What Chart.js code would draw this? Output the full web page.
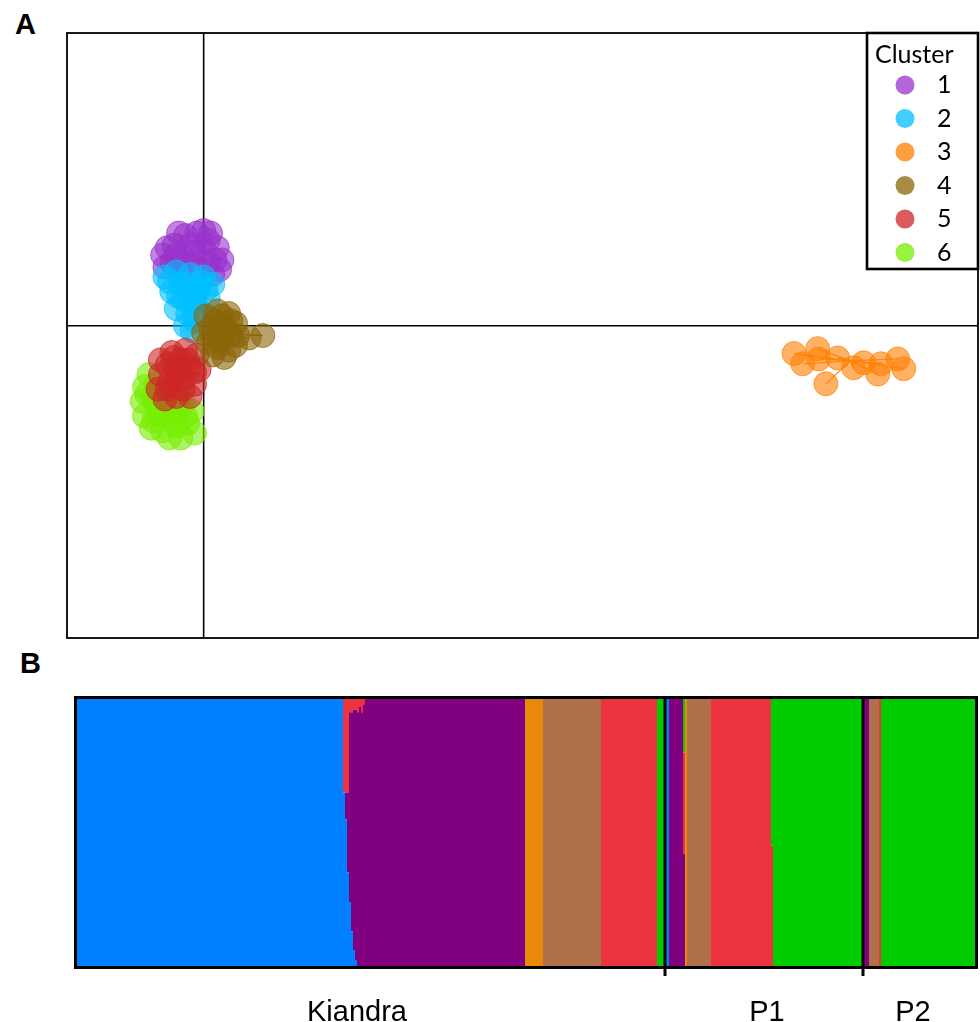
<!DOCTYPE html>
<html>
<head>
<meta charset="utf-8">
<script src="https://cdn.jsdelivr.net/npm/chart.js@4.4.0/dist/chart.umd.min.js"></script>
<style>
  html, body { margin: 0; padding: 0; background: #fff; }
  body { width: 980px; height: 1022px; position: relative; overflow: hidden; font-family: "Liberation Sans", Arial, sans-serif; }
  .panel-label { position: absolute; font-weight: bold; font-size: 29px; line-height: 1; }
  #wrapA { position: absolute; left: 65px; top: 31px; width: 915px; height: 609px; }
  #wrapB { position: absolute; left: 70px; top: 694px; width: 910px; height: 328px; }
</style>
</head>
<body>
<div class="panel-label" style="left:15px;top:10px;">A</div>
<div class="panel-label" style="left:20px;top:649px;">B</div>
<div id="wrapA"><canvas id="scatter"></canvas></div>
<div id="wrapB"><canvas id="structure"></canvas></div>
<script>
// ---------- Panel A: cluster scatter ----------
const clusterNames = ['1', '2', '3', '4', '5', '6'];
const clusterColors = ['153, 50, 204', '0, 191, 255', '255, 127, 0', '139, 101, 8', '205, 38, 38', '118, 238, 0'];

const cluster1 = [[-0.9,1.45],[-0.85,1.2],[-0.65,1.65],[-0.4,1.85],[-0.15,1.9],[0.1,1.75],[0.3,1.6],[0.4,1.35],[0.35,1.15],[0.1,1.3],[-0.2,1.5],[-0.45,1.4],[-0.7,1.3],[0.0,1.95],[-0.5,1.1],[0.2,1.05],[-0.3,1.65],
  [-0.6,1.45],[-0.35,1.25],[0.0,1.55],[0.25,1.35],[-0.1,1.15],[-0.8,1.6],[0.15,1.9],[-0.55,1.9]];
const cluster2 = [[-0.85,1.0],[-0.6,1.1],[-0.3,1.05],[0.0,1.0],[0.2,0.85],[-0.7,0.7],[-0.45,0.55],[-0.15,0.7],[0.1,0.55],[-0.6,0.35],[-0.35,0.25],[-0.1,0.3],[-0.4,0.0],[-0.25,-0.1],[-0.2,0.5],[-0.5,0.85],
  [-0.75,0.9],[-0.4,0.85],[-0.05,0.9],[-0.3,0.45],[-0.55,0.6],[0.05,0.75],[-0.2,0.1]];
const cluster3 = [[12.96,-0.57],[13.48,-0.47],[13.15,-0.78],[13.66,-1.19],[13.5,-0.68],[14.27,-0.86],[14.49,-0.76],[14.8,-0.99],[15.24,-0.68],[15.37,-0.88],[14.87,-0.78],[13.92,-0.66]];
const cluster4 = [[0.05,0.2],[0.3,0.3],[0.55,0.25],[0.7,0.05],[0.15,-0.05],[0.4,0.0],[0.6,-0.2],[0.1,-0.35],[0.35,-0.3],[0.55,-0.5],[0.2,-0.6],[0.45,-0.65],[0.7,-0.4],[1.0,-0.25],[1.3,-0.2],[0.0,-0.15],
  [0.25,0.1],[0.5,-0.1],[0.3,-0.45],[0.6,0.1],[0.75,-0.2],[0.2,-0.2],[0.4,0.2]];
const cluster5 = [[-0.95,-0.7],[-0.7,-0.55],[-0.4,-0.5],[-0.15,-0.6],[-0.1,-0.9],[-0.3,-0.85],[-0.6,-0.85],[-0.95,-1.0],[-1.0,-1.3],[-0.75,-1.15],[-0.45,-1.1],[-0.2,-1.2],[-0.3,-1.45],[-0.6,-1.45],[-0.85,-1.5],[-0.5,-0.7],
  [-0.8,-0.8],[-0.55,-1.0],[-0.35,-0.7],[-0.2,-0.95],[-0.8,-1.3],[-0.45,-1.3],[-0.65,-0.65]];
const cluster6 = [[-1.3,-1.25],[-1.05,-1.2],[-1.35,-1.55],[-1.1,-1.5],[-0.8,-1.4],[-1.3,-1.85],[-1.0,-1.8],[-0.7,-1.7],[-0.45,-1.6],[-0.25,-1.75],[-1.15,-2.1],[-0.9,-2.15],[-0.6,-2.05],[-0.35,-2.0],[-0.2,-2.2],[-0.75,-2.3],[-0.5,-2.3],[-1.2,-1.0],
  [-1.05,-1.6],[-0.85,-1.85],[-0.6,-1.85],[-0.4,-1.85],[-1.1,-1.95],[-0.55,-1.5],[-1.25,-1.4],[-0.95,-1.45]];
const centroids = [[-0.15,1.35],[-0.25,0.72],[14.2,-0.72],[0.4,-0.16],[-0.7,-1.4],[-0.8,-1.75]];

const clusterPoints = [cluster1, cluster2, cluster3, cluster4, cluster5, cluster6];
// bottom -> top
const drawSequence = [0, 1, 5, 4, 3, 2];

const scatterSets = [];
drawSequence.forEach((k, s) => {
  const col = clusterColors[k];
  const c = centroids[k];
  const spokes = [];
  clusterPoints[k].forEach(p => {
    spokes.push({ x: c[0], y: c[1] });
    spokes.push({ x: p[0], y: p[1] });
  });
  scatterSets.push({
    type: 'scatter',
    label: 'Cluster ' + clusterNames[k],
    data: clusterPoints[k].map(p => ({ x: p[0], y: p[1] })),
    pointRadius: 12,
    pointBackgroundColor: `rgba(${col}, 0.6)`,
    pointBorderColor: `rgba(${col}, 0.7)`,
    pointBorderWidth: 1,
    order: 100 - 2 * s
  });
  scatterSets.push({
    type: 'line',
    label: 'spokes ' + clusterNames[k],
    data: spokes,
    showLine: true,
    pointRadius: 0,
    borderColor: `rgba(${col}, 0.85)`,
    borderWidth: 1.3,
    tension: 0,
    order: 100 - 2 * s - 1
  });
});

const zeroLines = {
  id: 'zeroLines',
  beforeDatasetsDraw(chart) {
    const { ctx, chartArea, scales: { x, y } } = chart;
    const x0 = x.getPixelForValue(0), y0 = y.getPixelForValue(0);
    ctx.save();
    ctx.strokeStyle = '#000';
    ctx.lineWidth = 1.6;
    ctx.beginPath();
    ctx.moveTo(x0, chartArea.top); ctx.lineTo(x0, chartArea.bottom);
    ctx.moveTo(chartArea.left, y0); ctx.lineTo(chartArea.right, y0);
    ctx.stroke();
    ctx.restore();
  },
  afterDraw(chart) {
    const { ctx, chartArea } = chart;
    ctx.save();
    ctx.strokeStyle = '#000';
    ctx.lineWidth = 1.8;
    ctx.strokeRect(chartArea.left, chartArea.top, chartArea.right - chartArea.left, chartArea.bottom - chartArea.top);

    // legend box inside the plot
    const w = 111, h = 236;
    const left = chartArea.right - w, top = chartArea.top;
    ctx.fillStyle = '#fff';
    ctx.fillRect(left, top, w, h);
    ctx.lineWidth = 2.6;
    ctx.strokeRect(left, top, w, h);
    ctx.fillStyle = '#000';
    ctx.font = '25px Lato';
    ctx.textAlign = 'left';
    ctx.textBaseline = 'alphabetic';
    ctx.fillText('Cluster', left + 8, top + 30);
    clusterNames.forEach((name, i) => {
      const yy = top + 52 + i * 33.5;
      ctx.beginPath();
      ctx.arc(left + 38, yy, 9.5, 0, Math.PI * 2);
      ctx.fillStyle = `rgba(${clusterColors[i]}, 0.75)`;
      ctx.fill();
      ctx.fillStyle = '#000';
      ctx.fillText(name, left + 70, yy + 8);
    });
    ctx.restore();
  }
};

new Chart(document.getElementById('scatter'), {
  type: 'scatter',
  data: { datasets: scatterSets },
  options: {
    responsive: true,
    maintainAspectRatio: false,
    animation: false,
    layout: { padding: 2, autoPadding: false },
    plugins: { legend: { display: false }, tooltip: { enabled: false } },
    events: [],
    scales: {
      x: { type: 'linear', min: -3, max: 17, display: false },
      y: { type: 'linear', min: -6.4, max: 6.0, display: false }
    }
  },
  plugins: [zeroLines]
});

// ---------- Panel B: membership bar plot ----------
const popNames = ['Kiandra', 'P1', 'P2'];
const popBreaks = [294, 393];
const popLabelAt = [140, 345, 418];
const nIndividuals = 449;

// individual index where each run of equal membership starts (last = end)
const blockStart = [0, 133, 134, 135, 136, 137, 138, 139, 140, 141, 142, 143, 144, 224, 233, 262, 290, 294, 296, 303, 304, 305, 317, 347, 348, 393, 396, 401, 402, 449];
const qBlue   = [1, 0.65, 0.55, 0.35, 0.24, 0.13, 0.06, 0.02, 0, 0, 0, 0, 0, 0, 0, 0, 0, 1, 0, 0, 0, 0, 0, 0, 0, 0, 0, 0, 0, 0];
const qPurple = [0, 0, 0.10, 0.30, 0.71, 0.82, 0.90, 0.94, 0.95, 0.97, 0.95, 0.98, 1, 0, 0, 0, 0, 0, 1, 0.42, 0, 0, 0, 0, 0, 1, 0, 0, 0, 0];
const qOrange = [0, 0, 0, 0, 0, 0, 0, 0, 0, 0, 0, 0, 0, 1, 0, 0, 0, 0, 0, 0, 1, 0, 0, 0, 0, 0, 0, 0, 0, 0];
const qBrown  = [0, 0, 0, 0, 0, 0, 0, 0, 0, 0, 0, 0, 0, 0, 1, 0, 0, 0, 0, 0, 0, 1, 0, 0, 0, 0, 1, 0, 0, 0];
const qRed    = [0, 0.35, 0.35, 0.35, 0.05, 0.05, 0.04, 0.04, 0.05, 0.03, 0.05, 0.02, 0, 0, 0, 1, 0, 0, 0, 0.38, 0, 0, 1, 0.45, 0, 0, 0, 1, 0, 0];
const qGreen  = [0, 0, 0, 0, 0, 0, 0, 0, 0, 0, 0, 0, 0, 0, 0, 0, 1, 0, 0, 0.20, 0, 0, 0, 0.55, 1, 0, 0, 0, 1, 1];

const memberSeries = [qBlue, qPurple, qOrange, qBrown, qRed, qGreen];
const memberColors = ['#0080ff', '#800080', '#e8890a', '#b0714a', '#ee3340', '#00cc00'];

const structureSets = memberSeries.map((q, i) => ({
  label: 'K' + (i + 1),
  data: blockStart.map((s, j) => ({ x: s, y: q[j] })),
  stepped: 'before',
  showLine: false,
  pointRadius: 0,
  borderWidth: 0,
  backgroundColor: memberColors[i],
  fill: i === 0 ? 'origin' : '-1'
}));

const structureFrame = {
  id: 'structureFrame',
  afterDraw(chart) {
    const { ctx, chartArea, scales: { x } } = chart;
    ctx.save();
    ctx.strokeStyle = '#000';
    ctx.lineWidth = 3;
    popBreaks.forEach(b => {
      const px = x.getPixelForValue(b);
      ctx.beginPath();
      ctx.moveTo(px, chartArea.top);
      ctx.lineTo(px, chartArea.bottom + 10);
      ctx.stroke();
    });
    ctx.strokeRect(chartArea.left - 1.5, chartArea.top - 1.5, chartArea.right - chartArea.left + 3, chartArea.bottom - chartArea.top + 3);
    ctx.fillStyle = '#000';
    ctx.font = '29px "Liberation Sans", Arial, sans-serif';
    ctx.textAlign = 'center';
    ctx.textBaseline = 'alphabetic';
    popNames.forEach((name, i) => {
      ctx.fillText(name, x.getPixelForValue(popLabelAt[i]), chartArea.bottom + 55);
    });
    ctx.restore();
  }
};

new Chart(document.getElementById('structure'), {
  type: 'line',
  data: { datasets: structureSets },
  options: {
    responsive: true,
    maintainAspectRatio: false,
    animation: false,
    layout: { padding: { left: 7, top: 5, right: 5, bottom: 56 }, autoPadding: false },
    plugins: { legend: { display: false }, tooltip: { enabled: false } },
    events: [],
    scales: {
      x: { type: 'linear', min: 0, max: nIndividuals, display: false },
      y: { min: 0, max: 1, stacked: true, display: false }
    }
  },
  plugins: [structureFrame]
});
</script>
</body>
</html>
